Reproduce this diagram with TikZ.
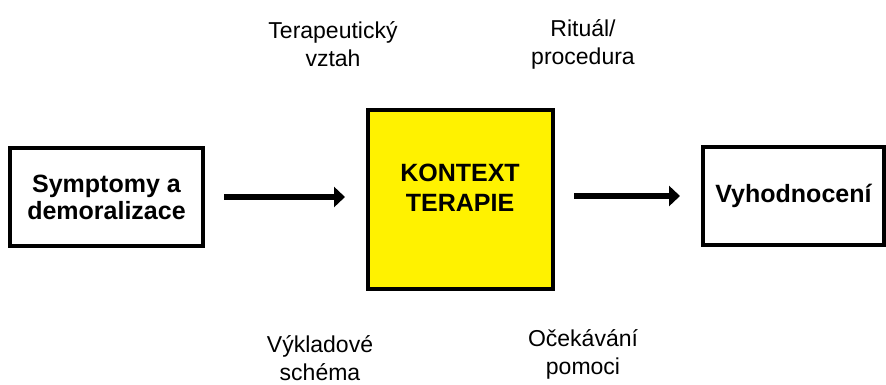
\documentclass[tikz,border=0pt]{standalone}
\usepackage{fontspec}
\setmainfont{Liberation Sans}
\usetikzlibrary{arrows.meta}
\begin{document}
\begin{tikzpicture}[x=1pt,y=-1pt,
  box/.style={draw=black,line width=4pt,rectangle,inner sep=0pt,align=center,
    font=\fontsize{25}{27}\selectfont\bfseries},
  lbl/.style={align=center,inner sep=0pt,font=\fontsize{23}{28}\selectfont},
  arr/.style={line width=6pt,-{Triangle[length=11pt,width=20pt]},shorten <=19pt,shorten >=21pt}]
\useasboundingbox[fill=white] (0,0) rectangle (886,385);
\node[box,minimum width=193pt,minimum height=98pt] (sym) at (106.5,197) {Symptomy a\\demoralizace};
\node[box,fill=yellow,minimum width=185pt,minimum height=179pt] (kon) at (460.5,199.5) {};
\node[align=center,inner sep=0pt,font=\fontsize{25}{30}\selectfont\bfseries] (kt) at (460,188) {KONTEXT\\TERAPIE};
\node[box,minimum width=181pt,minimum height=98pt] (vyh) at (793.5,196) {Vyhodnocení};
\draw[arr] (sym.east) -- (sym.east -| kon.west);
\draw[arr] (kon.east |- vyh.west) -- (vyh.west);
\node[lbl] (tv) at (333,44) {Terapeutický\\vztah};
\node[lbl] (rp) at (583,44) {Rituál/\\procedura};
\node[lbl] (vs) at (320,358) {Výkladové\\schéma};
\node[lbl] (op) at (583,354) {Očekávání\\pomoci};
\end{tikzpicture}
\end{document}
